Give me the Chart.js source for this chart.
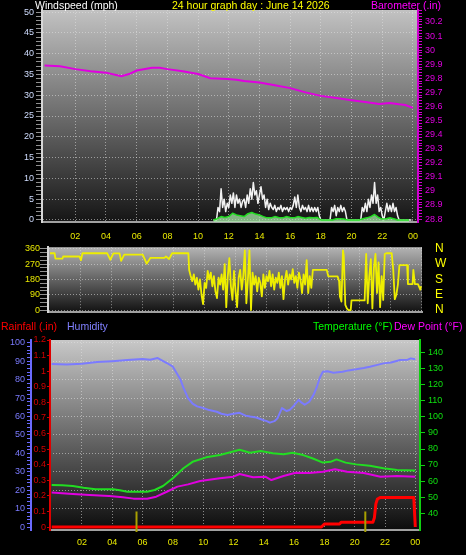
<!DOCTYPE html>
<html>
<head>
<meta charset="utf-8">
<script src="https://cdn.jsdelivr.net/npm/chart.js@4.4.1/dist/chart.umd.min.js"></script>
<style>
  html, body { margin: 0; padding: 0; background: #000; }
  body { width: 466px; height: 555px; position: relative; overflow: hidden; font-family: "Liberation Sans", Arial, sans-serif; }
  .box { position: absolute; left: 0; width: 466px; }
  .lbl { position: absolute; font-size: 10.5px; line-height: 12px; white-space: nowrap; z-index: 2; }
</style>
</head>
<body>
<div class="box" style="top:0;height:240px"><canvas id="windChart"></canvas></div>
<div class="box" style="top:240px;height:80px"><canvas id="dirChart"></canvas></div>
<div class="box" style="top:320px;height:235px"><canvas id="tempChart"></canvas></div>

<div class="lbl" style="left:35px;top:-1px;color:#ffffff">Windspeed (mph)</div>
<div class="lbl" style="left:172px;top:-1px;color:#ffff00">24 hour graph day : June 14 2026</div>
<div class="lbl" style="left:371px;top:-1px;color:#ff00ff">Barometer (.in)</div>
<div class="lbl" style="left:1px;top:320px;color:#ff0000">Rainfall (.in)</div>
<div class="lbl" style="left:67px;top:320px;color:#8080ff">Humidity</div>
<div class="lbl" style="left:313px;top:320px;color:#00ff00">Temperature (°F)</div>
<div class="lbl" style="left:394px;top:320px;color:#ff00ff">Dew Point (°F)</div>

<script>
// x axis: hours of the day
const hourTicks = [2, 4, 6, 8, 10, 12, 14, 16, 18, 20, 22, 24];
const hourLabels = ['02', '04', '06', '08', '10', '12', '14', '16', '18', '20', '22', '00'];
const compassTicks = [0, 90, 180, 270, 360];
const compassLabels = ['N', 'E', 'S', 'W', 'N'];

// barometer (.in) [hour, value]
const baro = [[0, 29.89], [1, 29.885], [2, 29.865], [3, 29.85], [4, 29.84], [5, 29.815], [5.5, 29.83],
  [6, 29.855], [7, 29.875], [7.5, 29.875], [8, 29.865], [9, 29.85], [10, 29.83], [10.8, 29.80],
  [11.9, 29.795], [12.5, 29.79], [13, 29.78], [14, 29.77], [15, 29.75], [16, 29.73], [17, 29.70],
  [18, 29.675], [19, 29.66], [19.9, 29.645], [21, 29.63], [21.8, 29.617], [22.5, 29.625],
  [23.1, 29.615], [23.5, 29.61], [24, 29.59]];

// wind gust (mph), one value every 0.1 h from 11:00
const gustStart = 11.0;
const gustStep = 0.1;
const gust = [
  0, 0, 0, 3, 2, 7.5, 3, 5, 2, 4,          // 11
  3, 6, 4, 6.5, 3, 6, 4, 5, 3, 4.5,        // 12
  5, 3, 6, 4, 7.5, 5, 9, 6, 7, 4,          // 13
  6, 8, 5, 6, 3, 5, 2.5, 4, 3, 2.5,        // 14
  3.5, 2, 3, 2.5, 3.5, 2, 3, 2.5, 3, 2,    // 15
  3, 2.5, 3.5, 5.5, 3, 6, 3, 2, 3.5, 2.5,  // 16
  3, 2, 3.5, 2, 3, 2, 3, 2, 3, 1,          // 17
  0, 0, 0, 0, 0, 0, 0, 3, 2, 3.5,          // 18
  1, 3, 2, 3.5, 2, 3, 2, 0, 0, 0,          // 19
  0, 0, 0, 0, 0, 0, 0, 3, 2, 4,            // 20
  2, 5, 3, 6, 4, 9, 4, 6, 2, 3,            // 21
  1, 0, 2, 4, 2, 3.5, 2, 4, 2, 3,          // 22
  1, 0, 0, 0, 0, 0, 0, 0, 0, 0             // 23
];

// average wind speed (mph), one value every 0.25 h from 11:00
const speedStart = 11.0;
const speedStep = 0.25;
const speed = [
  0, 0.3, 0.8, 0.6,
  0.8, 1.6, 1.2, 1.0,
  0.8, 1.5, 1.8, 1.4,
  1.2, 0.8, 0.5, 0.5,
  0.8, 0.6, 0.5, 0.8,
  0.6, 0.5, 0.8, 0.6,
  0.4, 0.6, 0.5, 0.6,
  0, 0, 0, 0,
  0.3, 0.3, 0.2, 0,
  0, 0, 0, 0.3,
  0.5, 0.8, 1.3, 0.6,
  0.2, 0.3, 0.5, 0.3,
  0, 0, 0, 0
];

// wind direction (degrees) [hour, value]
const windDir = [[0, 334], [0.3, 334], [0.35, 302], [0.8, 302], [0.85, 315], [1.9, 315], [2.0, 293],
  [2.1, 334], [3.7, 334], [3.9, 296], [4.1, 333], [4.5, 333], [4.6, 289], [4.8, 326], [6.0, 326],
  [6.25, 273], [6.5, 307], [7.4, 307], [7.5, 315], [7.7, 300], [7.9, 334], [8.95, 334],
  [9.0, 236], [9.1, 200], [9.2, 170], [9.3, 210], [9.4, 150], [9.5, 190], [9.6, 120], [9.7, 180],
  [9.8, 90], [9.9, 35], [10.0, 160], [10.1, 130], [10.2, 230], [10.3, 180], [10.4, 220], [10.5, 140],
  [10.6, 200], [10.7, 110], [10.8, 70], [10.9, 190], [11.0, 150], [11.1, 210], [11.2, 120], [11.3, 270],
  [11.4, 17], [11.5, 200], [11.6, 305], [11.7, 140], [11.8, 60], [11.9, 230], [12.0, 110], [12.1, 17],
  [12.2, 190], [12.3, 236], [12.4, 120], [12.5, 200], [12.6, 351], [12.7, 40], [12.8, 180], [12.9, 351],
  [13.0, 0], [13.1, 220], [13.2, 150], [13.3, 200], [13.4, 110], [13.5, 190], [13.6, 160], [13.7, 80],
  [13.8, 210], [13.9, 130], [14.0, 200], [14.1, 170], [14.2, 230], [14.3, 140], [14.4, 210], [14.5, 120],
  [14.6, 190], [14.7, 160], [14.8, 220], [14.9, 130], [15.0, 200], [15.1, 64], [15.2, 180], [15.3, 230],
  [15.4, 150], [15.5, 210], [15.6, 180], [15.7, 240], [15.8, 160], [15.9, 200], [16.0, 130], [16.1, 220],
  [16.2, 180], [16.3, 100], [16.4, 210], [16.5, 150], [16.6, 293], [16.7, 100], [16.8, 200], [16.9, 130],
  [17.0, 236], [17.9, 236], [18.0, 198], [18.6, 198], [18.7, 170], [18.75, 80], [18.85, 50], [18.95, 351],
  [19.0, 320], [19.1, 30], [19.2, 10], [19.3, 0], [19.45, 0], [19.5, 57], [20.35, 57], [20.45, 330],
  [20.55, 40], [20.65, 200], [20.75, 300], [20.85, 10], [20.95, 250], [21.05, 330], [21.15, 100],
  [21.25, 280], [21.35, 17], [21.45, 200], [21.55, 60], [21.65, 330], [21.75, 334], [22.1, 334],
  [22.2, 236], [22.3, 64], [22.4, 90], [22.5, 150], [22.6, 264], [23.1, 264], [23.15, 153], [23.45, 153],
  [23.5, 236], [23.6, 153], [23.8, 153], [23.95, 120], [24, 140]];

// humidity (%) [hour, value]
const humidity = [[0, 88.5], [1, 88.2], [2, 88.6], [3, 89.5], [4, 90], [5, 90.6], [6, 91.2], [6.5, 90.8],
  [7.0, 91.7], [7.6, 89], [8.0, 87], [8.5, 80], [8.7, 75.5], [9.0, 70], [9.3, 67], [9.6, 65.5], [10.0, 64.6],
  [10.4, 63.5], [10.9, 62.6], [11.2, 61.5], [11.6, 60.8], [12.0, 61.5], [12.4, 62], [12.8, 60.5], [13.1, 60],
  [13.5, 59.5], [14.0, 58], [14.2, 57.5], [14.4, 56.7], [14.7, 57.5], [14.9, 59], [15.2, 64.6], [15.5, 63],
  [15.7, 63.5], [16.0, 66], [16.3, 69], [16.5, 67.5], [16.7, 66.4], [17.0, 68], [17.3, 72], [17.5, 76],
  [17.7, 81], [17.9, 84.3], [18.2, 84.5], [18.6, 83.7], [19.2, 84.3], [19.6, 85], [20.1, 85.6], [20.6, 86.3],
  [21.0, 87], [21.5, 88], [21.9, 88.8], [22.4, 89.3], [23.0, 90.6], [23.5, 90.8], [23.7, 91.5], [24, 91]];

// temperature (°F) [hour, value]
const temperature = [[0, 57.5], [0.7, 57.3], [1.4, 56.9], [2.1, 55.8], [2.9, 54.8], [4.05, 54.8], [4.5, 54.2],
  [5.0, 53.3], [6.3, 53.3], [6.8, 54.4], [7.35, 56.9], [8.0, 61.7], [8.7, 68], [9.3, 72], [10.2, 74.8],
  [11.1, 76.2], [11.8, 78], [12.4, 79.5], [13.1, 77.7], [13.8, 78.8], [14.6, 77.3], [15.3, 76.7], [15.9, 77.7],
  [16.6, 76.2], [17.2, 74.2], [17.9, 71.5], [18.4, 72], [18.8, 73.5], [19.4, 71.5], [20.1, 70.4], [21.0, 69.6],
  [21.9, 68], [22.8, 66.9], [24, 66.5]];

// dew point (°F) [hour, value]
const dewPoint = [[0, 52.9], [1.4, 51.9], [2.5, 51.2], [3.8, 50.6], [4.7, 49.8], [5.4, 49], [6.3, 48.9],
  [6.9, 50.2], [7.6, 53.3], [8.3, 56.5], [9.0, 57.9], [9.8, 60], [11.1, 61.7], [12.0, 62.7], [12.4, 64.4],
  [13.3, 62.3], [14.1, 62.7], [14.5, 60.6], [15.3, 63.1], [16.1, 65.2], [17.0, 65], [17.9, 65.8], [18.7, 67.3],
  [19.5, 65.8], [20.6, 65], [21.7, 62.7], [22.8, 63.1], [24, 62.7]];

// rainfall (.in) [hour, value]
const rainfall = [[0, 0], [17.8, 0], [18.0, 0.02], [19.0, 0.02], [19.1, 0.03], [21.2, 0.03], [21.3, 0.06],
  [21.4, 0.15], [21.5, 0.18], [21.7, 0.19], [23.9, 0.19], [24, 0]];

// sunrise / sunset markers
const sunTimes = [5.6, 20.7];

const GRID = 'rgba(225,225,225,0.55)';
const DOTS = [1, 2];
const FONT = { family: 'Liberation Sans', size: 9 };

function toXY(pairs) {
  return pairs.map(([h, v]) => ({ x: h, y: v }));
}
function stepped(start, step, values) {
  return values.map((v, i) => ({ x: start + i * step, y: v }));
}
function tickRange(lo, hi, step, div) {
  const out = [];
  for (let i = lo; i <= hi + 1e-9; i += step) out.push({ value: i / div });
  return out;
}
function isMult(v, m) {
  return Math.abs(v / m - Math.round(v / m)) < 1e-6;
}
function tenth(v) {
  return String(Math.round(v * 10) / 10);
}

// gradient plot background
const plotBg = {
  id: 'plotBg',
  beforeDraw(chart, args, opts) {
    const { ctx, chartArea: a } = chart;
    const g = ctx.createLinearGradient(0, a.top, 0, a.bottom);
    g.addColorStop(0, opts.top);
    g.addColorStop(1, opts.bottom);
    ctx.save();
    ctx.fillStyle = g;
    ctx.fillRect(a.left, a.top, a.width, a.height);
    ctx.restore();
  }
};

// sunrise/sunset ticks at the bottom of the lower chart
const sunMarks = {
  id: 'sunMarks',
  afterDatasetsDraw(chart, args, opts) {
    if (!opts.hours) return;
    const { ctx, chartArea: a } = chart;
    const x = chart.scales.x;
    const r = chart.scales.rain;
    ctx.save();
    ctx.strokeStyle = '#a8a000';
    ctx.lineWidth = 2;
    opts.hours.forEach(h => {
      const px = x.getPixelForValue(h);
      ctx.beginPath();
      ctx.moveTo(px, r.getPixelForValue(0.1));
      ctx.lineTo(px, a.bottom + 2);
      ctx.stroke();
    });
    ctx.restore();
  }
};

function hourAxis(min, max, height, showLabels, pad) {
  return {
    type: 'linear', min: min, max: max,
    afterBuildTicks: s => { s.ticks = hourTicks.map(v => ({ value: v })); },
    afterFit: s => { s.height = height; },
    grid: { color: GRID, drawTicks: false },
    border: { color: '#a0a0a0', width: 2, dash: DOTS },
    ticks: {
      display: showLabels, autoSkip: false, maxRotation: 0, padding: pad,
      color: '#e8e800', font: FONT,
      callback: v => hourLabels[hourTicks.indexOf(v)]
    }
  };
}

const common = {
  animation: false,
  responsive: true,
  maintainAspectRatio: false,
  elements: { point: { radius: 0 }, line: { tension: 0, borderJoinStyle: 'round' } }
};

// top: wind speed + barometer
new Chart(document.getElementById('windChart'), {
  type: 'line',
  plugins: [plotBg],
  data: {
    datasets: [
      { data: toXY(baro), yAxisID: 'baro', borderColor: '#e000e0', borderWidth: 2, order: 0 },
      { data: stepped(gustStart, gustStep, gust), yAxisID: 'wind', borderColor: '#f2f2f2', borderWidth: 1.5, order: 2 },
      { data: stepped(speedStart, speedStep, speed), yAxisID: 'wind', borderColor: '#22dd22', borderWidth: 1.5,
        fill: 'start', backgroundColor: 'rgba(170,235,170,0.75)', order: 1 }
    ]
  },
  options: {
    ...common,
    layout: { padding: { top: 10 } },
    plugins: { legend: { display: false }, tooltip: { enabled: false }, plotBg: { top: '#c2c2c2', bottom: '#151515' } },
    scales: {
      x: hourAxis(-0.17, 24.33, 18, true, 9),
      wind: {
        position: 'left', min: -0.5, max: 50.5,
        afterBuildTicks: s => { s.ticks = tickRange(0, 50, 1, 1); },
        afterFit: s => { s.width = 42; },
        grid: { color: c => isMult(c.tick.value, 5) ? GRID : 'transparent', tickColor: '#909090', tickLength: 6 },
        border: { color: '#d8d8d8', width: 2, dash: DOTS },
        ticks: { autoSkip: false, padding: 2, color: '#d0ddff', font: FONT,
          callback: v => isMult(v, 5) ? String(v) : '' }
      },
      baro: {
        position: 'right', min: 28.779, max: 30.285,
        afterBuildTicks: s => { s.ticks = tickRange(1440, 1514, 1, 50); },
        afterFit: s => { s.width = 48; },
        grid: { drawOnChartArea: false, color: '#d000d0', tickLength: 4 },
        border: { color: '#d000d0', width: 2 },
        ticks: { autoSkip: false, padding: 3, color: '#e000e0', font: FONT,
          callback: v => isMult(v, 0.1) ? tenth(v) : '' }
      }
    }
  }
});

// middle: wind direction
new Chart(document.getElementById('dirChart'), {
  type: 'line',
  plugins: [plotBg],
  data: {
    datasets: [
      { data: toXY(windDir), yAxisID: 'dir', borderColor: '#eeee00', borderWidth: 1.8 }
    ]
  },
  options: {
    ...common,
    layout: { padding: { top: 0 } },
    plugins: { legend: { display: false }, tooltip: { enabled: false }, plotBg: { top: '#b4b4b4', bottom: '#121212' } },
    scales: {
      x: hourAxis(-0.13, 24.06, 8, false, 0),
      dir: {
        position: 'left', min: -11.4, max: 369.7,
        afterBuildTicks: s => { s.ticks = tickRange(0, 360, 22.5, 1); },
        afterFit: s => { s.width = 48; },
        grid: { color: c => isMult(c.tick.value, 90) ? GRID : 'transparent', tickColor: '#909090', tickLength: 8 },
        border: { color: '#d8d8d8', width: 2, dash: DOTS },
        ticks: { autoSkip: false, padding: 0, color: '#e8e800', font: FONT,
          callback: v => isMult(v, 90) ? String(v) : '' }
      },
      compass: {
        position: 'right', min: -11.4, max: 369.7,
        afterBuildTicks: s => { s.ticks = compassTicks.map(v => ({ value: v })); },
        afterFit: s => { s.width = 44; },
        grid: { drawOnChartArea: false, color: 'transparent', tickLength: 13 },
        border: { display: false },
        ticks: { autoSkip: false, padding: 0, color: '#ffff00', font: { family: 'Liberation Sans', size: 12 },
          callback: v => compassLabels[compassTicks.indexOf(v)] }
      }
    }
  }
});

// bottom: rain, humidity, temperature, dew point
new Chart(document.getElementById('tempChart'), {
  type: 'line',
  plugins: [plotBg, sunMarks],
  data: {
    datasets: [
      { data: toXY(rainfall), yAxisID: 'rain', borderColor: '#ff0000', borderWidth: 3, order: 0 },
      { data: toXY(humidity), yAxisID: 'hum', borderColor: '#7b7bff', borderWidth: 2, order: 3 },
      { data: toXY(temperature), yAxisID: 'temp', borderColor: '#22dd22', borderWidth: 2, order: 2 },
      { data: toXY(dewPoint), yAxisID: 'temp', borderColor: '#e000e0', borderWidth: 2, order: 1 }
    ]
  },
  options: {
    ...common,
    layout: { padding: { top: 20 } },
    plugins: {
      legend: { display: false }, tooltip: { enabled: false },
      plotBg: { top: '#c8c8c8', bottom: '#0c0c0c' },
      sunMarks: { hours: sunTimes }
    },
    scales: {
      x: hourAxis(-0.11, 24.31, 25, true, 7),
      hum: {
        position: 'left', weight: 1, min: -1.46, max: 101.46,
        afterBuildTicks: s => { s.ticks = tickRange(0, 100, 2, 1); },
        afterFit: s => { s.width = 31; },
        grid: { drawOnChartArea: false, color: '#6a6aff', tickLength: 4 },
        border: { color: '#6a6aff', width: 2 },
        ticks: { autoSkip: false, padding: 2, color: '#7b7bff', font: FONT,
          callback: v => isMult(v, 10) ? String(v) : '' }
      },
      rain: {
        position: 'left', weight: 0, min: -0.019, max: 1.2,
        afterBuildTicks: s => { s.ticks = tickRange(0, 12, 1, 10); },
        afterFit: s => { s.width = 19; },
        grid: { drawOnChartArea: false, color: '#d00000', tickLength: 3 },
        border: { color: '#e00000', width: 2 },
        ticks: { autoSkip: false, padding: 1, color: '#d40000', font: FONT, callback: v => tenth(v) }
      },
      temp: {
        position: 'right', min: 29.4, max: 148.1,
        afterBuildTicks: s => { s.ticks = tickRange(40, 140, 10, 1); },
        afterFit: s => { s.width = 46; },
        grid: { drawOnChartArea: false, color: '#10d010', tickLength: 5 },
        border: { color: '#10d010', width: 2 },
        ticks: { autoSkip: false, padding: 3, color: '#10e010', font: FONT, callback: v => String(v) }
      },
      gridHum: {
        // horizontal grid lines every 10 % humidity
        position: 'left', display: true, min: -1.46, max: 101.46,
        afterBuildTicks: s => { s.ticks = tickRange(10, 100, 10, 1); },
        afterFit: s => { s.width = 0; },
        grid: { color: GRID, drawTicks: false },
        border: { display: false, dash: DOTS },
        ticks: { display: false }
      }
    }
  }
});
</script>
</body>
</html>
